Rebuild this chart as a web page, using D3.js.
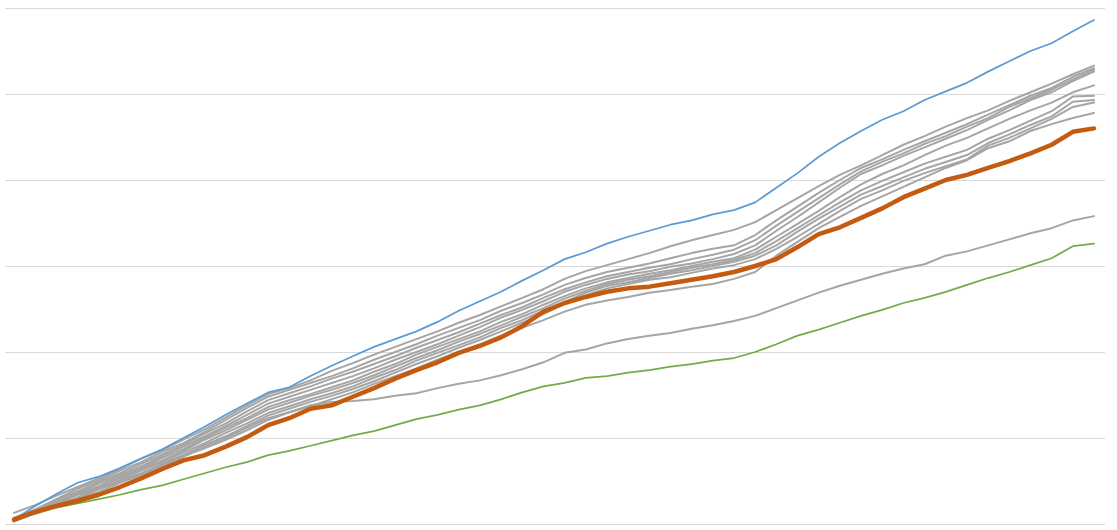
<!DOCTYPE html>
<html>
<head>
<meta charset="utf-8">
<script src="https://cdn.jsdelivr.net/npm/d3@7"></script>
<style>
  html, body { margin: 0; padding: 0; background: #fff; }
  .grid line { stroke: #d9d9d9; stroke-width: 1; shape-rendering: crispEdges; }
  .grid .domain { display: none; }
  .grid text { display: none; }
  .series { fill: none; stroke-linejoin: round; stroke-linecap: round; }
</style>
</head>
<body>
<div class="chart"></div>
<script>

//////////
// DATA //
//////////

// 52 weekly points, cumulative
var weeks = d3.range(1, 53);

var yTicks = [0, 10, 20, 30, 40, 50, 60];

var blueSeries = [0.5, 2.1, 3.5, 4.8, 5.5, 6.5, 7.6, 8.7, 10.0, 11.3, 12.7, 14.0, 15.3, 15.9, 17.2, 18.4, 19.5, 20.6, 21.5, 22.4,
    23.5, 24.8, 25.9, 27.0, 28.3, 29.5, 30.8, 31.6, 32.6, 33.4, 34.1, 34.8, 35.3, 36.0, 36.5, 37.4, 39.1, 40.8, 42.7, 44.3,
    45.7, 47.0, 48.0, 49.3, 50.3, 51.3, 52.6, 53.8, 55.0, 55.9, 57.3, 58.6];

var orangeSeries = [0.5, 1.4, 2.1, 2.7, 3.4, 4.3, 5.3, 6.4, 7.4, 8.0, 9.0, 10.1, 11.5, 12.3, 13.4, 13.8, 14.8, 15.8, 16.9, 17.9,
    18.8, 19.9, 20.7, 21.7, 23.0, 24.7, 25.7, 26.4, 27.0, 27.4, 27.6, 28.0, 28.4, 28.8, 29.3, 30.0, 30.8, 32.2, 33.7, 34.5,
    35.6, 36.7, 38.0, 39.0, 40.0, 40.6, 41.4, 42.2, 43.1, 44.1, 45.6, 46.0];

var greenSeries = [0.5, 1.2, 1.9, 2.4, 2.9, 3.4, 4.0, 4.5, 5.2, 5.9, 6.6, 7.2, 8.0, 8.5, 9.1, 9.7, 10.3, 10.8, 11.5, 12.2,
    12.7, 13.3, 13.8, 14.5, 15.3, 16.0, 16.4, 17.0, 17.2, 17.6, 17.9, 18.3, 18.6, 19.0, 19.3, 20.0, 20.9, 21.9, 22.6, 23.4,
    24.2, 24.9, 25.7, 26.3, 27.0, 27.8, 28.6, 29.3, 30.1, 30.9, 32.3, 32.6];

var grey1 = [1.3, 2.2, 3.3, 4.3, 5.3, 6.4, 7.6, 8.6, 9.8, 11.0, 12.4, 13.8, 15.1, 15.8, 16.7, 17.8, 18.7, 19.7, 20.6, 21.5,
    22.4, 23.4, 24.3, 25.3, 26.3, 27.3, 28.5, 29.4, 30.1, 30.8, 31.5, 32.3, 33.0, 33.6, 34.2, 35.1, 36.5, 37.9, 39.3, 40.6,
    41.7, 42.9, 44.1, 45.1, 46.2, 47.2, 48.1, 49.2, 50.2, 51.2, 52.3, 53.3];

var grey2 = [0.7, 1.7, 2.9, 4.1, 5.1, 6.2, 7.2, 8.4, 9.4, 10.7, 12.1, 13.5, 14.8, 15.6, 16.4, 17.2, 18.1, 19.1, 20.0, 20.9,
    21.9, 22.8, 23.7, 24.8, 25.7, 26.7, 27.8, 28.6, 29.3, 29.8, 30.3, 30.9, 31.5, 32.0, 32.4, 33.6, 35.3, 36.9, 38.5, 40.0,
    41.4, 42.4, 43.5, 44.5, 45.5, 46.5, 47.6, 48.7, 49.8, 50.7, 52.0, 53.0];

var grey3 = [0.6, 1.6, 2.8, 3.8, 4.9, 5.9, 7.0, 8.1, 9.2, 10.5, 11.7, 13.1, 14.4, 15.2, 16.0, 16.9, 17.7, 18.6, 19.5, 20.5,
    21.4, 22.3, 23.3, 24.3, 25.2, 26.3, 27.3, 28.1, 28.8, 29.3, 29.8, 30.2, 30.8, 31.3, 31.9, 33.0, 34.7, 36.3, 37.9, 39.5,
    41.0, 42.1, 43.1, 44.2, 45.1, 46.2, 47.2, 48.5, 49.5, 50.5, 51.7, 52.8];

var grey4 = [0.6, 1.5, 2.6, 3.6, 4.7, 5.7, 6.7, 7.9, 9.0, 10.2, 11.4, 12.7, 14.0, 14.8, 15.6, 16.4, 17.2, 18.1, 19.1, 20.0,
    20.9, 21.9, 22.9, 24.0, 24.9, 25.9, 27.0, 27.8, 28.5, 29.0, 29.4, 29.9, 30.3, 30.8, 31.4, 32.4, 34.1, 35.7, 37.4, 39.1,
    40.7, 41.7, 42.8, 43.8, 44.8, 45.8, 47.0, 48.1, 49.3, 50.2, 51.5, 52.6];

var grey5 = [0.5, 1.4, 2.4, 3.5, 4.4, 5.5, 6.5, 7.7, 8.7, 10.0, 11.2, 12.3, 13.6, 14.4, 15.1, 15.9, 16.7, 17.7, 18.6, 19.7,
    20.6, 21.5, 22.4, 23.5, 24.4, 25.5, 26.5, 27.4, 28.1, 28.6, 29.1, 29.5, 30.0, 30.5, 30.9, 31.9, 33.4, 34.9, 36.4, 38.0,
    39.5, 40.7, 41.7, 42.9, 44.0, 44.9, 46.0, 47.1, 48.1, 49.0, 50.2, 51.0];

var grey6 = [0.5, 1.4, 2.3, 3.4, 4.3, 5.3, 6.4, 7.4, 8.5, 9.8, 10.9, 12.1, 13.3, 14.1, 14.9, 15.6, 16.4, 17.3, 18.3, 19.3,
    20.2, 21.2, 22.1, 23.1, 24.1, 25.1, 26.2, 27.1, 27.9, 28.4, 28.8, 29.3, 29.8, 30.2, 30.7, 31.5, 32.9, 34.4, 35.9, 37.4,
    38.8, 39.9, 40.9, 41.9, 42.7, 43.5, 44.8, 45.8, 46.9, 48.0, 49.7, 49.8];

var grey7 = [0.5, 1.3, 2.2, 3.1, 4.1, 5.1, 6.2, 7.2, 8.3, 9.4, 10.6, 11.7, 12.9, 13.7, 14.5, 15.2, 16.0, 17.0, 17.9, 19.0,
    19.9, 20.8, 21.7, 22.8, 23.7, 24.8, 25.8, 26.9, 27.7, 28.1, 28.6, 29.1, 29.5, 30.0, 30.5, 31.2, 32.4, 34.0, 35.5, 36.9,
    38.3, 39.3, 40.3, 41.3, 42.1, 42.9, 44.3, 45.3, 46.4, 47.4, 49.1, 49.3];

var grey8 = [0.3, 1.3, 2.1, 3.0, 4.0, 5.0, 5.9, 7.0, 8.0, 9.2, 10.2, 11.4, 12.6, 13.4, 14.2, 14.9, 15.7, 16.6, 17.6, 18.6,
    19.5, 20.5, 21.4, 22.4, 23.4, 24.4, 25.6, 26.6, 27.4, 27.9, 28.4, 28.7, 29.2, 29.7, 30.1, 30.8, 32.0, 33.4, 34.9, 36.4,
    37.8, 38.8, 39.9, 40.8, 41.6, 42.4, 44.0, 44.9, 46.0, 47.1, 48.5, 49.0];

var grey9 = [0.3, 1.2, 2.0, 2.9, 3.7, 4.8, 5.7, 6.7, 7.8, 9.0, 10.0, 11.2, 12.3, 13.0, 13.7, 14.5, 15.3, 16.3, 17.2, 18.1,
    19.1, 20.0, 20.9, 21.9, 22.8, 23.7, 24.7, 25.5, 26.0, 26.4, 26.9, 27.2, 27.6, 27.9, 28.5, 29.3, 31.2, 32.8, 34.4, 35.7,
    37.0, 38.1, 39.2, 40.3, 41.4, 42.3, 43.7, 44.5, 45.7, 46.5, 47.2, 47.8];

var grey10 = [0.7, 1.6, 2.6, 3.4, 4.1, 4.9, 5.8, 6.9, 7.9, 8.8, 9.8, 10.9, 12.1, 13.0, 13.8, 14.2, 14.3, 14.5, 14.9, 15.2,
    15.8, 16.3, 16.7, 17.3, 18.0, 18.8, 19.9, 20.3, 21.0, 21.5, 21.9, 22.2, 22.7, 23.1, 23.6, 24.2, 25.1, 26.0, 26.9, 27.7,
    28.4, 29.1, 29.7, 30.2, 31.2, 31.7, 32.4, 33.1, 33.8, 34.4, 35.3, 35.8];

var greySeries = [grey1, grey2, grey3, grey4, grey5, grey6, grey7, grey8, grey9, grey10];

//////////////
// SETTINGS //
//////////////

var w = 1117,
    h = 530;

var colors = {
    grey: '#a5a5a5',
    blue: '#5b9bd5',
    orange: '#c55a11',
    green: '#70ad47'
};

var svg = d3.select('.chart')
    .append('svg')
    .attr('width', w)
    .attr('height', h);

////////////
// SCALES //
////////////

var xScale = d3.scalePoint()
    .domain(weeks)
    .range([14, 1094]);

var yScale = d3.scaleLinear()
    .domain([0, 60])
    .range([524, 8]);

//////////
// GRID //
//////////

var grid = d3.axisLeft(yScale)
    .tickValues(yTicks)
    .tickSize(-1100)
    .tickFormat('');

svg.append('g')
    .attr('class', 'grid')
    .attr('transform', 'translate(5,0)')
    .call(grid);

///////////
// LINES //
///////////

var line = d3.line()
    .x(function(d, i) { return xScale(weeks[i]); })
    .y(function(d) { return yScale(d); });

svg.selectAll('.grey')
    .data(greySeries)
    .enter()
    .append('path')
    .attr('class', 'series grey')
    .attr('d', line)
    .style('stroke', colors.grey)
    .style('stroke-width', 2);

svg.append('path')
    .datum(greenSeries)
    .attr('class', 'series')
    .attr('d', line)
    .style('stroke', colors.green)
    .style('stroke-width', 1.75);

svg.append('path')
    .datum(blueSeries)
    .attr('class', 'series')
    .attr('d', line)
    .style('stroke', colors.blue)
    .style('stroke-width', 1.75);

svg.append('path')
    .datum(orangeSeries)
    .attr('class', 'series')
    .attr('d', line)
    .style('stroke', colors.orange)
    .style('stroke-width', 4.5);

</script>
</body>
</html>
